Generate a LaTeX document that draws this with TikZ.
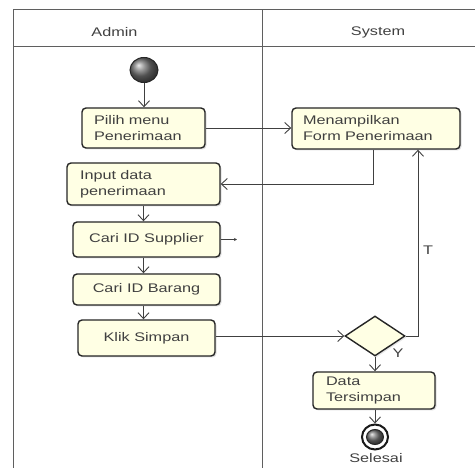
\documentclass[tikz,border=0pt]{standalone}
\usepackage{fontspec}
\setmainfont[FakeStretch=1.3]{Liberation Sans}
\usetikzlibrary{arrows.meta,shapes.geometric,shadows,calc}
\definecolor{boxfill}{RGB}{255,255,228}
\definecolor{frameline}{RGB}{95,95,95}
\begin{document}
\begin{tikzpicture}[x=1pt,y=-1pt,
  every node/.style={font=\fontsize{12.5}{16}\selectfont, text=black!75},
  act/.style={draw=black!85, line width=1.4pt, fill=boxfill, rounded corners=4pt,
    drop shadow={opacity=0.25, shadow xshift=1.5pt, shadow yshift=-1.5pt}},
  flow/.style={draw=black!75, line width=0.9pt, -{Straight Barb[length=6pt,width=11pt]}},
  lane/.style={draw=frameline, line width=1pt}]
\useasboundingbox (0,0) rectangle (475,468);
% frame
\draw[lane] (13,468) -- (13,10) -- (475,10);
\draw[lane] (13,47) -- (475,47);
\draw[lane] (262,10) -- (262,468);
\node (hadmin) at (114.5,32) {Admin};
\node (hsys) at (378,32) {System};
% nodes
\node[ellipse, minimum width=28pt, minimum height=25pt, inner sep=0pt, draw=black!85, line width=1pt, shading=ball, ball color=black!55] (start) at (144,70) {};
\node[act, minimum width=123pt, minimum height=40pt, text width=99pt, inner xsep=12pt, align=left] (pilih) at (143.5,128) {Pilih menu\\Penerimaan};
\node[act, minimum width=168pt, minimum height=41pt, text width=146pt, inner xsep=11pt, align=left] (tampil) at (376,128.5) {Menampilkan\\Form Penerimaan};
\node[act, minimum width=153pt, minimum height=42pt, text width=127pt, inner xsep=13pt, align=left] (input) at (143.5,184) {Input data\\penerimaan};
\node[act, minimum width=147pt, minimum height=35pt] (supp) at (146.5,239.5) {Cari ID Supplier};
\node[act, minimum width=147pt, minimum height=31pt] (barang) at (146.5,289.5) {Cari ID Barang};
\node[act, minimum width=137pt, minimum height=36pt] (klik) at (146.5,338) {Klik Simpan};
\node[diamond, draw=black!85, line width=1.4pt, fill=boxfill, minimum width=60pt, minimum height=40pt, inner sep=0pt, aspect=1.5,
  drop shadow={opacity=0.2, shadow xshift=1.5pt, shadow yshift=-1.5pt}] (dec) at (375,336) {};
\node[act, minimum width=122pt, minimum height=37pt, text width=96pt, inner xsep=13pt, align=left] (data) at (374,390.5) {Data\\Tersimpan};
\node[ellipse, minimum width=26pt, minimum height=25pt, inner sep=0pt, draw=black!90, line width=2pt, fill=white] (end) at (375,437) {};
\node[ellipse, minimum width=17pt, minimum height=15pt, inner sep=0pt, draw=black!85, line width=1pt, shading=ball, ball color=black!55] (endin) at (end.center) {};
\node (selesai) at (376,458) {Selesai};
% connectors
\coordinate (sx) at (237,239.5);
\coordinate (tx) at (418,0);
\coordinate (lx) at (373,0);
\draw[flow] (start) -- (start |- pilih.north);
\draw[flow] (pilih.east) -- (pilih.east -| tampil.west);
\draw[flow] (lx |- tampil.south) |- (input.east);
\draw[flow] (input.south) -- (input.south |- supp.north);
\draw[draw=black!75, line width=0.9pt, -{Stealth[length=3pt,width=3pt]}] (supp.east) -- (sx);
\draw[flow] (supp.south -| input.south) -- (input.south |- barang.north);
\draw[flow] (barang.south -| input.south) -- (input.south |- klik.north);
\draw[flow] (klik.east |- dec.west) -- (dec.west);
\draw[flow] (dec.east) -- (dec.east -| tx) -- (tx |- tampil.south);
\draw[flow] (dec.south) -- (dec.south |- data.north);
\draw[flow] (data.south -| end.north) -- (end.north);
\node (tlab) at (428,250) {T};
\node (ylab) at (398,353) {Y};
\end{tikzpicture}
\end{document}
